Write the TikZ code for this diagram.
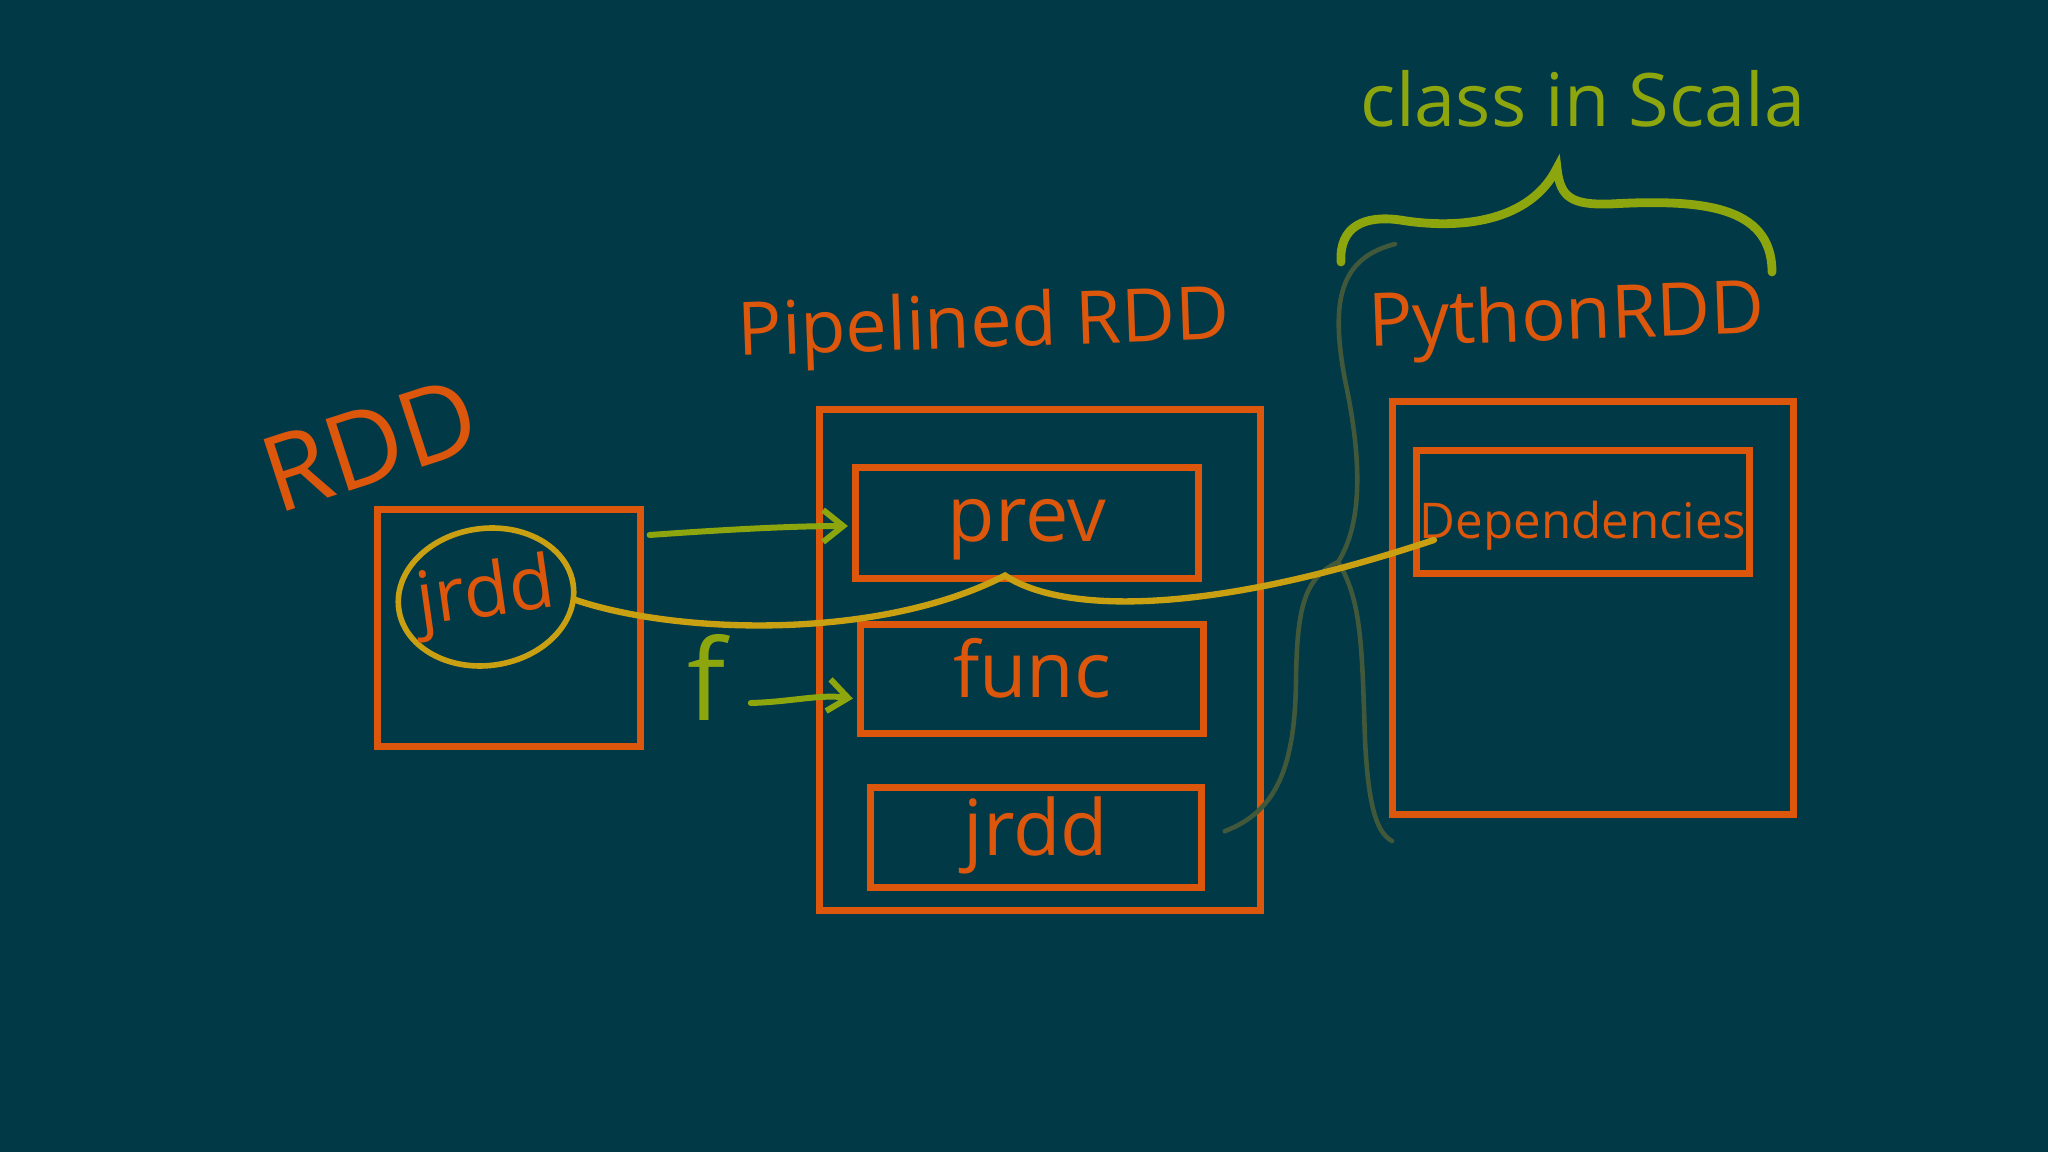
\documentclass[tikz,border=0pt]{standalone}
\usepackage{fontspec}
\setmainfont{Open Sans}
\usetikzlibrary{arrows.meta,positioning,calc,shapes.geometric}
\definecolor{board}{HTML}{013947}
\definecolor{chalk}{HTML}{DC560C}
\definecolor{lime}{HTML}{8EA60E}
\definecolor{gold}{HTML}{C9A012}
\definecolor{moss}{HTML}{41583B}
\newcommand{\handfont}[1]{\fontsize{#1}{#1}\selectfont}
\tikzset{
  box/.style={draw=chalk,line width=2pt,inner sep=0pt},
  inbox/.style={box,text=chalk,font=\handfont{22pt},text height=16pt,text depth=5.5pt},
  title/.style={text=chalk,inner sep=0pt,font=\handfont{21pt}},
  note/.style={text=lime,inner sep=0pt,font=\handfont{21pt}},
  ring/.style={ellipse,draw=gold,line width=1.6pt,inner xsep=-3pt,inner ysep=0pt,text=chalk,font=\handfont{21pt}},
  arrow/.style={-{Straight Barb[length=2mm,width=3.2mm]},line width=1.7pt,draw=lime,line cap=round},
  link/.style={draw=gold,line width=1.8pt,line cap=round},
  brace/.style={draw=lime,line width=2.5pt,line cap=round},
  group/.style={draw=moss,line width=1.3pt,line cap=round},
}

\begin{document}
\begin{tikzpicture}[x={(0.01cm,0)},y={(0,-0.01cm)},node distance=4mm]
\fill[board] (0,0) rectangle (2048,1152);
\useasboundingbox (0,0) rectangle (2048,1152);

% RDD
\node[box,minimum width=2.62cm,minimum height=2.37cm] (rddbox) at (509,628) {};
\node[title,font=\handfont{30pt},rotate=18] (rddtitle) at (370,445) {RDD};
\node[ring,minimum width=1.76cm,minimum height=1.37cm,rotate=8] (jring) at (486,597) {jrdd};

% pipelined
\node[box,minimum width=4.4cm,minimum height=5.01cm] (pipebox) at (1040,660) {};
\node[title,above=4mm of pipebox,xshift=-5.5mm,rotate=2] (pipetitle) {Pipelined RDD};
\node[inbox,minimum width=3.43cm,minimum height=1.1cm] (prev) at (1027,523) {prev};
\node[inbox,minimum width=3.43cm,minimum height=1.09cm,below=3.9mm of prev,xshift=.5mm] (func) {func};
\node[inbox,minimum width=3.3cm,minimum height=1cm,below=4.7mm of func,xshift=.4mm] (jrddbox) {jrdd};

% python
\node[box,minimum width=4cm,minimum height=4.12cm] (pybox) at (1593,608) {};
\node[title,above=4mm of pybox,xshift=-2.5mm,rotate=2] (pytitle) {PythonRDD};
\node[inbox,font=\handfont{14pt},text height=19pt,text depth=4pt,minimum width=3.33cm,minimum height=1.22cm] (deps) at (1583,512) {Dependencies};

% scala brace
\draw[brace] (1341,262) .. controls (1339,226) and (1365,215) .. (1400,220)
  .. controls (1460,230) and (1530,222) .. (1557,168)
  .. controls (1560,198) and (1572,205) .. (1610,204)
  .. controls (1700,199) and (1772,205) .. (1772,272);
\node[note,anchor=base] (scala) at (1583,127) {class in Scala};

% grouping
\coordinate (tip) at (1338,562);
\draw[group] (1395,244) .. controls (1340,258) and (1330,300) .. (1345,380)
  .. controls (1360,450) and (1365,520) .. (tip)
  .. controls (1362,600) and (1362,650) .. (1365,740)
  .. controls (1368,800) and (1375,832) .. (1392,841);
\draw[group] (tip) .. controls (1305,578) and (1297,605) .. (1296,680)
  .. controls (1295,770) and (1275,812) .. ($(jrddbox.east)+(20,-6)$);

% links
\draw[link] (jring.-10) .. controls (680,635) and (880,640) .. ($(prev.south)+(-22,-6)$)
  .. controls (1060,612) and (1200,618) .. ($(deps.west)+(21,28)$);

\node[note,font=\handfont{32pt}] (fname) at (707,677) {f};
\draw[arrow] ($(rddbox.east)+(6,-93)$) .. controls (720,530) and (790,526) .. ($(prev.west)+(-4,3)$);
\draw[arrow] ($(fname.east)+(24,26)$) .. controls (790,702) and (820,694) .. ($(func.west)+(-4,20)$);

\end{tikzpicture}
\end{document}
